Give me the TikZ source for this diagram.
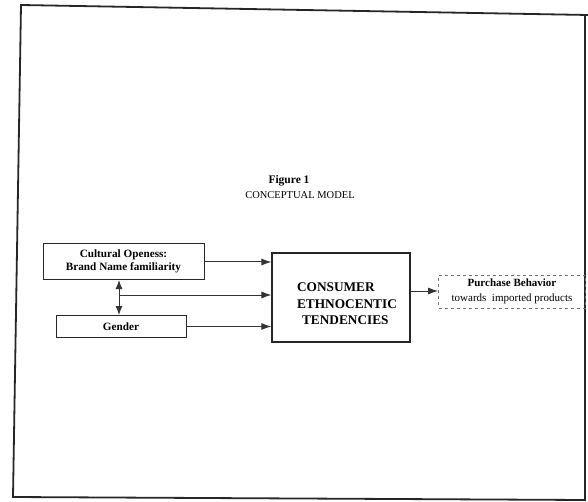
\documentclass[tikz,border=0pt]{standalone}
\usepackage{fontspec}
\setmainfont{Liberation Serif}
\usetikzlibrary{arrows.meta}
\begin{document}
\begin{tikzpicture}[x=1pt,y=-1pt,
  box/.style={draw=black!85,line width=1pt,inner sep=0pt,align=center},
  arr/.style={draw=black!80,line width=1pt,-{Latex[length=10pt,width=7pt]}},
  darr/.style={draw=black!80,line width=1pt,{Latex[length=9pt,width=7pt]}-{Latex[length=9pt,width=7pt]}}]
\useasboundingbox (0,0) rectangle (588,502);
% outer frame
\draw[line width=1.8pt,black!85,line join=miter] (588,15) -- (21,5) -- (13,497) -- (585,500) -- (585,15);
% title
\node[font=\fontsize{11.5}{12}\selectfont\bfseries] (fig) at (289,181) {Figure 1};
\node[font=\fontsize{10.5}{12}\selectfont] (cm) at (300,195) {CONCEPTUAL MODEL};
% boxes
\node[box,minimum width=161pt,minimum height=36pt,font=\fontsize{11.2}{13.5}\selectfont\bfseries] (cult) at (123.5,261.5)
  {Cultural Openess:\\Brand Name familiarity};
\node[box,minimum width=130pt,minimum height=22pt,font=\fontsize{11.2}{13}\selectfont\bfseries] (gen) at (121,326.5)
  {Gender};
\node[box,line width=1.2pt,minimum width=138pt,minimum height=89pt] (cet) at (341,297.5) {};
\node[align=left,inner sep=0pt,font=\fontsize{13.3}{16.5}\selectfont\bfseries] (cettext) at (347,304)
  {CONSUMER\\ETHNOCENTIC\\\hspace*{5pt}TENDENCIES};
\node[draw=black!55,dashed,line width=0.8pt,inner sep=0pt,align=center,minimum width=147pt,minimum height=33pt,font=\fontsize{11}{15}\selectfont] (pb) at (512,291.5)
  {\textbf{Purchase Behavior}\\towards\ \ imported products};
% connectors
\coordinate (j) at (119,295);
\draw[darr] (cult.south -| j) -- (gen.north -| j);
\draw[arr] (cult.east |- 0,262) -- (cet.west |- 0,262);
\draw[arr] (j) -- (cet.west |- j);
\draw[arr] (gen.east) -- (cet.west |- gen.east);
\draw[arr] (cet.east |- 0,291) -- (pb.west |- 0,291);
\end{tikzpicture}
\end{document}
